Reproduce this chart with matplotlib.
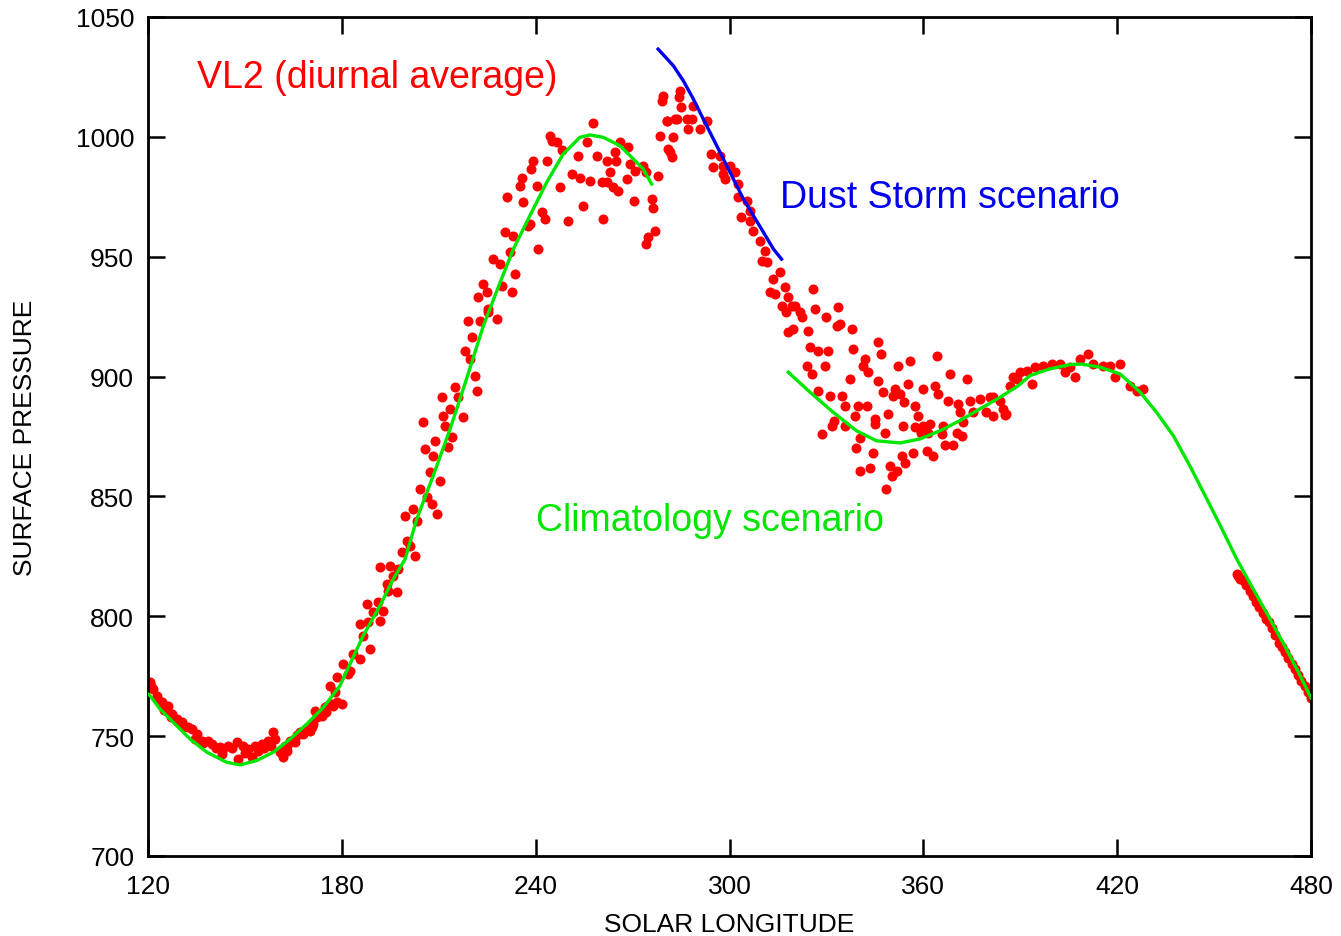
import matplotlib.pyplot as plt

# Данные VL2 (суточное среднее)
sol_lon = [
    120.6, 121.0, 121.6, 122.7, 123.0, 124.2, 125.0, 126.3, 127.0, 127.3, 128.9, 129.0, 130.4, 131.0,
    132.5, 133.5, 134.5, 135.0, 136.6, 137.0, 138.7, 139.7, 141.0, 142.3, 142.8, 143.0, 144.8, 146.0,
    147.4, 148.0, 149.5, 150.0, 151.0, 152.1, 153.1, 154.0, 155.2, 156.0, 157.2, 158.0, 158.8, 159.3,
    160.9, 161.9, 162.4, 162.9, 163.0, 164.0, 165.0, 165.5, 166.0, 167.0, 168.1, 169.1, 170.1, 170.6,
    171.0, 171.7, 172.2, 173.8, 173.8, 174.8, 175.0, 175.3, 176.3, 176.9, 177.4, 177.9, 178.4, 178.4,
    180.0, 180.5, 182.0, 182.5, 183.5, 185.6, 185.6, 186.6, 187.7, 188.2, 188.7, 189.7, 191.3, 191.8,
    191.8, 192.8, 193.9, 194.4, 194.9, 195.9, 197.0, 197.5, 198.5, 199.6, 200.1, 201.1, 202.1, 202.6,
    203.2, 204.2, 205.2, 205.7, 206.3, 207.3, 207.8, 208.3, 208.8, 209.3, 210.4, 210.9, 211.4, 211.9,
    213.0, 213.5, 214.0, 215.0, 216.0, 217.6, 218.1, 219.2, 219.7, 220.2, 221.2, 221.7, 222.2, 222.8,
    223.8, 224.8, 225.2, 225.3, 226.9, 227.9, 229.0, 229.5, 230.5, 231.0, 232.0, 232.6, 233.0, 233.6,
    235.1, 235.7, 236.2, 237.7, 238.3, 238.7, 239.3, 240.3, 240.8, 241.9, 243.0, 243.4, 244.4, 244.9,
    246.5, 247.5, 248.0, 250.0, 251.2, 253.2, 253.7, 254.7, 255.8, 256.8, 257.8, 258.9, 260.4, 260.9,
    262.0, 262.0, 263.0, 264.0, 264.6, 265.0, 265.6, 266.1, 268.2, 268.7, 269.2, 270.3, 270.7, 273.3,
    274.3, 274.3, 274.9, 275.9, 276.4, 277.0, 278.0, 278.5, 279.0, 279.5, 280.6, 280.6, 281.1, 281.6,
    282.1, 282.6, 283.1, 283.6, 284.3, 284.7, 285.1, 286.7, 287.2, 288.3, 288.8, 290.8, 292.9, 294.4,
    295.0, 297.0, 298.1, 298.1, 298.6, 300.2, 301.7, 302.7, 302.7, 303.7, 305.3, 306.3, 306.3, 307.3,
    309.4, 310.0, 311.0, 311.5, 312.5, 313.6, 314.0, 315.6, 316.1, 317.2, 317.6, 318.2, 318.2, 319.2,
    319.7, 320.3, 321.8, 322.3, 323.9, 324.4, 324.9, 325.4, 325.9, 326.4, 327.5, 327.5, 328.5, 329.6,
    330.0, 330.6, 331.1, 331.7, 332.2, 333.2, 333.7, 334.2, 334.7, 335.8, 335.8, 337.3, 337.8, 338.2,
    338.8, 339.3, 339.9, 340.4, 340.4, 341.3, 341.9, 342.5, 342.9, 343.5, 344.5, 345.0, 345.0, 346.0,
    346.0, 347.0, 347.6, 348.1, 348.6, 349.2, 349.7, 350.2, 350.7, 351.2, 351.7, 352.3, 352.8, 353.3,
    353.8, 354.1, 354.3, 355.3, 355.9, 356.9, 357.4, 357.4, 358.5, 359.2, 360.0, 360.0, 361.0, 361.6,
    362.0, 363.1, 363.6, 364.1, 364.6, 365.7, 366.2, 366.7, 367.7, 368.2, 369.3, 370.4, 370.8, 371.3,
    372.0, 372.4, 373.4, 374.4, 375.4, 377.5, 379.5, 380.6, 381.5, 381.6, 383.7, 384.8, 385.3, 385.7,
    386.8, 387.9, 388.9, 390.0, 392.0, 393.6, 394.6, 397.2, 399.8, 402.3, 403.9, 405.4, 407.0, 408.5,
    411.1, 412.6, 415.7, 417.8, 419.3, 420.9, 424.0, 426.0, 428.1,
    457.0, 457.5, 458.0, 459.0, 460.0, 461.0, 462.0, 463.0, 464.0, 465.0, 466.0, 467.0, 468.0,
    469.0, 470.0, 471.0, 472.0, 473.0, 474.0, 475.0, 476.0, 477.0, 478.0, 479.0, 480.0,
]
pressure = [
    772.4, 771.0, 769.7, 766.9, 765.0, 764.1, 761.0, 762.7, 758.0, 759.2, 756.4, 757.0, 755.8, 754.0,
    753.7, 753.0, 748.8, 751.0, 748.1, 747.0, 748.1, 746.7, 745.0, 745.3, 742.4, 744.0, 746.0, 745.0,
    747.5, 740.5, 746.0, 743.0, 744.6, 741.1, 746.0, 744.0, 746.7, 745.0, 748.1, 746.0, 751.6, 748.8,
    743.3, 741.1, 746.0, 746.0, 744.0, 748.0, 748.1, 747.5, 750.3, 751.6, 751.0, 752.4, 752.2, 753.7,
    755.0, 760.6, 757.9, 759.2, 758.5, 762.0, 760.0, 762.7, 771.0, 763.4, 762.7, 768.3, 764.1, 774.5,
    763.4, 780.1, 775.9, 777.3, 784.3, 782.2, 796.8, 791.9, 805.1, 797.5, 786.3, 801.7, 805.8, 798.2,
    820.4, 802.4, 813.5, 810.7, 821.1, 816.9, 810.0, 819.7, 826.7, 841.7, 831.5, 829.4, 844.7, 825.3,
    839.9, 853.1, 880.9, 869.8, 849.6, 860.0, 846.8, 867.0, 873.2, 842.7, 856.6, 891.3, 883.7, 879.5,
    870.5, 886.5, 874.6, 895.5, 891.3, 883.0, 910.8, 923.3, 907.3, 916.4, 900.4, 894.1, 933.0, 923.3,
    938.6, 935.2, 928.0, 926.8, 949.0, 924.0, 947.0, 937.9, 960.4, 974.8, 951.8, 935.2, 958.8, 942.8,
    979.6, 983.0, 972.7, 962.9, 963.6, 986.6, 990.0, 979.4, 953.2, 968.5, 965.7, 989.8, 1000.5, 998.4,
    997.7, 979.0, 994.6, 965.0, 984.5, 992.0, 983.0, 971.3, 997.7, 981.7, 1005.8, 992.0, 981.0, 965.7,
    990.0, 981.0, 985.2, 979.0, 993.8, 990.0, 977.5, 997.7, 982.4, 995.6, 988.5, 973.4, 985.8, 988.0,
    985.2, 955.3, 958.1, 974.0, 970.2, 960.8, 983.8, 1000.5, 1015.0, 1017.2, 1006.7, 1006.7, 994.9, 993.6,
    991.5, 999.8, 1007.4, 1007.4, 1016.5, 1019.3, 1012.3, 1007.4, 1003.3, 1007.4, 1013.0, 1003.3, 1006.7, 992.8,
    987.3, 992.1, 988.0, 984.5, 982.4, 988.0, 985.2, 980.3, 974.8, 966.4, 973.4, 969.2, 965.0, 960.8,
    956.7, 948.3, 952.5, 947.6, 935.2, 940.7, 934.4, 943.5, 929.6, 937.2, 926.8, 933.0, 918.5, 929.6,
    919.8, 929.6, 926.8, 924.7, 904.5, 919.1, 912.2, 901.0, 936.5, 928.2, 910.8, 894.1, 876.0, 904.5,
    924.7, 910.8, 892.0, 879.5, 881.6, 921.2, 928.9, 921.9, 892.0, 887.9, 879.5, 899.0, 919.8, 911.5,
    883.7, 870.2, 887.9, 874.4, 860.6, 904.5, 907.3, 887.9, 901.7, 862.0, 868.1, 882.3, 880.2, 914.3,
    898.3, 909.4, 893.5, 876.5, 853.1, 884.4, 862.6, 858.6, 892.0, 894.8, 860.6, 904.5, 892.7, 866.8,
    879.5, 889.3, 864.0, 896.9, 906.6, 868.1, 887.9, 878.8, 883.7, 876.5, 894.8, 879.5, 869.0, 876.5,
    880.2, 866.8, 896.2, 908.7, 892.7, 876.0, 879.5, 871.5, 889.9, 901.0, 871.5, 876.5, 888.6, 885.1,
    875.1, 880.9, 899.0, 889.9, 885.1, 890.6, 885.1, 891.3, 883.7, 891.3, 889.9, 886.5, 884.0, 884.4,
    896.2, 899.7, 899.0, 901.8, 902.5, 896.9, 903.9, 904.5, 905.2, 905.2, 901.8, 903.9, 899.7, 907.3,
    909.4, 905.2, 904.5, 904.5, 899.7, 905.2, 896.2, 894.1, 894.8,
    817.5, 816.8, 815.5, 815.0, 813.0, 810.5, 808.5, 806.0, 804.0, 801.5, 799.0, 797.5, 795.0,
    792.0, 789.0, 787.0, 785.0, 782.5, 780.0, 778.0, 775.5, 773.0, 771.0, 768.5, 766.0,
]

# Сценарий климатологии (две ветви)
clim1_lon = [120.0, 120.6, 123.7, 127.8, 133.0, 138.2, 144.3, 148.5, 153.6, 158.8, 164.0, 169.1, 174.3,
             179.4, 186.6, 191.8, 195.9, 199.6, 203.2, 208.3, 213.5, 218.6, 223.8, 229.0, 233.1,
             238.2, 243.4, 248.5, 253.7, 256.8, 260.9, 266.1, 270.2, 273.3, 275.9]
clim1_p = [767.5, 766.9, 761.3, 755.8, 748.8, 743.3, 739.1, 738.0, 739.8, 743.3, 748.8, 755.0, 762.0,
           771.0, 791.9, 804.4, 815.5, 823.9, 840.6, 858.7, 878.1, 899.0, 921.2, 939.3, 953.2,
           967.1, 981.0, 992.8, 999.8, 1000.8, 999.8, 996.3, 990.8, 986.6, 980.3]
clim2_lon = [318.2, 324.9, 332.1, 339.3, 345.5, 352.8, 359.0, 365.2, 371.3, 377.5, 383.7, 389.4, 393.0,
             399.2, 405.4, 409.0, 414.7, 420.9, 427.1, 432.2, 437.4, 442.5, 446.7, 451.8, 457.0,
             462.1, 467.3, 472.4, 476.0, 480.0]
clim2_p = [901.8, 893.5, 885.1, 877.4, 873.2, 872.3, 874.0, 877.4, 881.6, 886.5, 891.3, 896.2, 900.4,
           903.2, 905.0, 905.2, 903.9, 901.1, 893.5, 885.1, 875.3, 862.8, 851.7, 838.2, 823.9,
           811.4, 798.9, 786.3, 777.0, 766.0]

# Сценарий пылевой бури
dust_lon = [277.9, 280.5, 282.6, 285.7, 288.8, 291.9, 295.0, 298.1, 301.2, 304.3, 307.4, 310.5,
            313.6, 316.1]
dust_p = [1036.6, 1032.8, 1029.7, 1023.4, 1015.8, 1007.4, 999.1, 990.8, 982.4, 974.1, 967.1, 960.2,
          953.2, 949.0]

plt.rcParams['font.family'] = ['Liberation Sans', 'DejaVu Sans']

fig = plt.figure(figsize=(13.41, 9.37), dpi=100)
ax = fig.add_axes([0.1104, 0.0854, 0.8672, 0.8954])

ax.scatter(sol_lon, pressure, s=52, color='#ff0000', linewidths=0, zorder=2)
ax.plot(clim1_lon, clim1_p, color='#00e600', lw=2.4, zorder=3, solid_joinstyle='round')
ax.plot(clim2_lon, clim2_p, color='#00e600', lw=2.4, zorder=3, solid_joinstyle='round')
ax.plot(dust_lon, dust_p, color='#0000ee', lw=2.4, zorder=3, solid_joinstyle='round')

# Подписи
ax.text(135.2, 1025, 'VL2 (diurnal average)', color='#ff0000', fontsize=27, va='center')
ax.text(315.6, 975, 'Dust Storm scenario', color='#0000ee', fontsize=27, va='center')
ax.text(240.1, 840, 'Climatology scenario', color='#00e600', fontsize=27, va='center')

ax.set_xlim(120, 480)
ax.set_ylim(700, 1050)
ax.set_xticks([120, 180, 240, 300, 360, 420, 480])
ax.set_yticks([700, 750, 800, 850, 900, 950, 1000, 1050])
ax.tick_params(direction='in', length=12, width=1.8, labelsize=19,
               top=True, right=True)
ax.tick_params(axis='x', pad=13)
ax.tick_params(axis='y', pad=10)
for sp in ax.spines.values():
    sp.set_linewidth(2)

ax.set_xlabel('SOLAR LONGITUDE', fontsize=19, labelpad=10)
ax.set_ylabel('SURFACE PRESSURE', fontsize=19, labelpad=28)

plt.savefig('out.png', dpi=100)
